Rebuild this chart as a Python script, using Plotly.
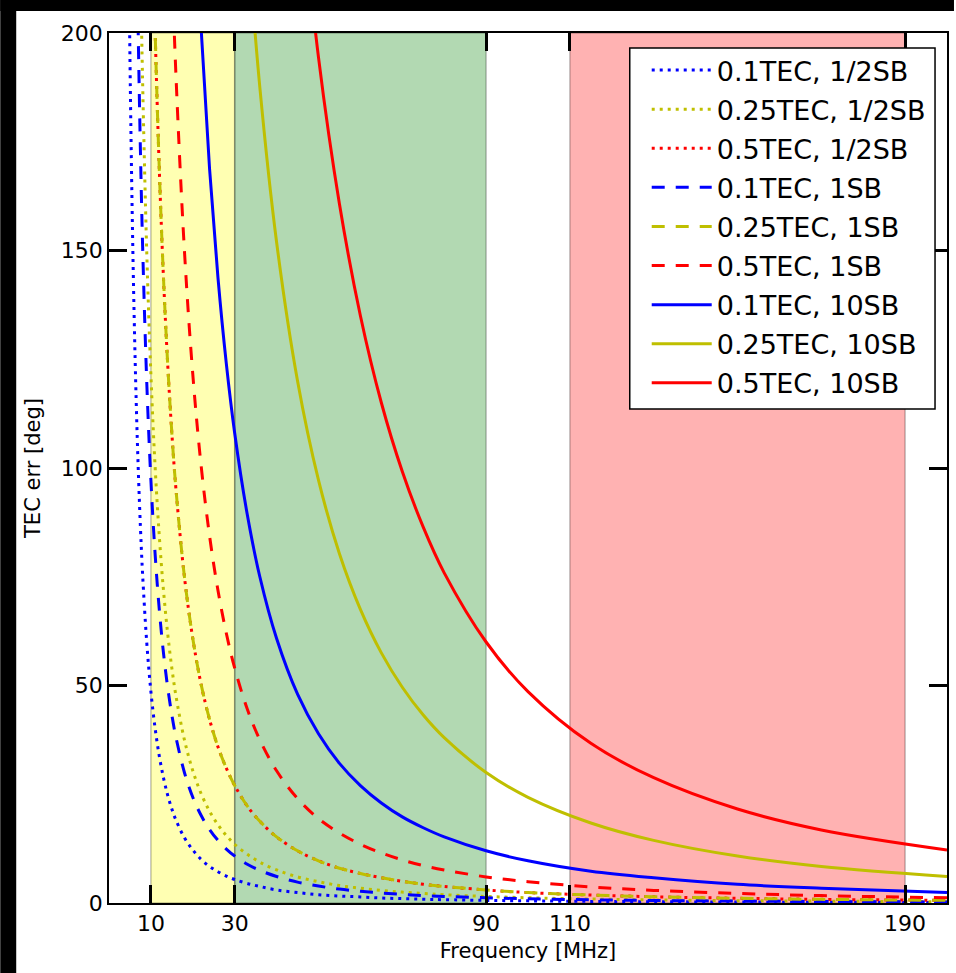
import plotly.graph_objects as go

# ---------------- data ----------------
freq = [4.5, 5, 5.5, 6, 6.5, 7, 7.5, 8, 9, 10, 11, 12, 13, 14, 15, 16, 18, 20,
        22, 24, 26, 28, 30, 33, 36, 40, 45, 50, 55, 60, 65, 70, 75, 80, 90, 100,
        115, 130, 150, 170, 200]

N = None
err_01_half = [240.0, 194.4, 160.7, 135.0, 115.0, 99.2, 86.4, 75.9, 60.0, 48.6,
               40.2, 33.8, 28.8, 24.8, 21.6, 19.0, 15.0, 12.2, 10.0, 8.4, 7.2,
               6.2, 5.4, 4.5, 3.8, 3.0, 2.4, 1.9, 1.6, 1.4, 1.15, 1.0, 0.86,
               0.76, 0.6, 0.49, 0.37, 0.29, 0.22, 0.17, 0.12]
err_025_half = [N, N, N, N, N, N, 216.0, 189.8, 150.0, 121.5, 100.4, 84.4, 71.9,
                62.0, 54.0, 47.5, 37.5, 30.4, 25.1, 21.1, 18.0, 15.5, 13.5, 11.2,
                9.4, 7.6, 6.0, 4.9, 4.0, 3.4, 2.9, 2.5, 2.2, 1.9, 1.5, 1.2, 0.92,
                0.72, 0.54, 0.42, 0.30]
err_05_half = [N, N, N, N, N, N, N, N, N, 243.0, 200.8, 168.8, 143.8, 124.0,
               108.0, 94.9, 75.0, 60.8, 50.2, 42.2, 35.9, 31.0, 27.0, 22.3, 18.8,
               15.2, 12.0, 9.7, 8.0, 6.8, 5.8, 5.0, 4.3, 3.8, 3.0, 2.4, 1.84,
               1.44, 1.08, 0.84, 0.61]
err_01_1 = [N, N, N, N, 230.1, 198.4, 172.8, 151.9, 120.0, 97.2, 80.3, 67.5,
            57.5, 49.6, 43.2, 38.0, 30.0, 24.3, 20.1, 16.9, 14.4, 12.4, 10.8,
            8.9, 7.5, 6.1, 4.8, 3.9, 3.2, 2.7, 2.3, 2.0, 1.7, 1.5, 1.2, 0.97,
            0.73, 0.58, 0.43, 0.34, 0.24]
err_025_1 = [N, N, N, N, N, N, N, N, N, 243.0, 200.8, 168.8, 143.8, 124.0,
             108.0, 94.9, 75.0, 60.8, 50.2, 42.2, 35.9, 31.0, 27.0, 22.3, 18.8,
             15.2, 12.0, 9.7, 8.0, 6.8, 5.8, 5.0, 4.3, 3.8, 3.0, 2.4, 1.84,
             1.44, 1.08, 0.84, 0.61]
err_05_1 = [N, N, N, N, N, N, N, N, N, N, N, N, N, N, 216.0, 189.8, 150.0,
            121.5, 100.4, 84.4, 71.9, 62.0, 54.0, 44.6, 37.5, 30.4, 24.0, 19.4,
            16.1, 13.5, 11.5, 9.9, 8.6, 7.6, 6.0, 4.9, 3.7, 2.9, 2.2, 1.7, 1.2]
err_01_10 = [N, N, N, N, N, N, N, N, N, N, N, N, N, N, N, N, N, 243.0, 200.8,
             168.8, 143.8, 124.0, 108.0, 89.3, 75.0, 60.8, 48.0, 38.9, 32.1,
             27.0, 23.0, 19.8, 17.3, 15.2, 12.0, 9.7, 7.3, 5.8, 4.3, 3.4, 2.4]
err_025_10 = [N, N, N, N, N, N, N, N, N, N, N, N, N, N, N, N, N, N, N, N, N, N,
              N, 223.1, 187.5, 151.9, 120.0, 97.2, 80.3, 67.5, 57.5, 49.6, 43.2,
              38.0, 30.0, 24.3, 18.4, 14.4, 10.8, 8.4, 6.1]
err_05_10 = [N, N, N, N, N, N, N, N, N, N, N, N, N, N, N, N, N, N, N, N, N, N,
             N, N, N, N, 240.0, 194.4, 160.7, 135.0, 115.0, 99.2, 86.4, 75.9,
             60.0, 48.6, 36.7, 28.8, 21.6, 16.8, 12.2]

series_names = ["0.1TEC, 1/2SB", "0.25TEC, 1/2SB", "0.5TEC, 1/2SB",
                "0.1TEC, 1SB", "0.25TEC, 1SB", "0.5TEC, 1SB",
                "0.1TEC, 10SB", "0.25TEC, 10SB", "0.5TEC, 10SB"]
series_values = [err_01_half, err_025_half, err_05_half,
                 err_01_1, err_025_1, err_05_1,
                 err_01_10, err_025_10, err_05_10]

band_start = [10, 30, 110]
band_end = [30, 90, 190]

x_ticks = [10, 30, 90, 110, 190]
y_ticks = [0, 50, 100, 150, 200]

# ---------------- styles ----------------
colors = ["#0000ff", "#bfbf00", "#ff0000"] * 3
dashes = ["3px,5px"] * 3 + ["13px,11px"] * 3 + ["solid"] * 3
band_colors = ["rgba(255,255,0,0.3)", "rgba(0,128,0,0.3)", "rgba(255,0,0,0.3)"]

FONT = "DejaVu Sans"

fig = go.Figure()

for i, (name, vals) in enumerate(zip(series_names, series_values)):
    fig.add_trace(go.Scatter(
        x=freq, y=vals, name=name, mode="lines",
        line=dict(color=colors[i], width=3, dash=dashes[i], shape="spline",
                  smoothing=1.0),
        legendgroup=f"g{i}", connectgaps=False,
    ))

for s, e, c in zip(band_start, band_end, band_colors):
    fig.add_vrect(x0=s, x1=e, fillcolor=c, layer="below",
                  line=dict(color="rgba(0,0,0,0.25)", width=1.5))

W, H = 956, 973
L, R, T, B = 109, 7, 33, 70
pw, ph = W - L - R, H - T - B
def px2paper_x(px):
    return (px - L) / pw
def px2paper_y(py):
    return (H - B - py) / ph

# black strips along the top and left edge of the image
fig.add_shape(type="rect", xref="paper", yref="paper",
              x0=px2paper_x(0), x1=px2paper_x(W), y0=px2paper_y(11), y1=px2paper_y(0),
              fillcolor="black", line_width=0, layer="above")
fig.add_shape(type="rect", xref="paper", yref="paper",
              x0=px2paper_x(0), x1=px2paper_x(16), y0=px2paper_y(H), y1=px2paper_y(0),
              fillcolor="black", line_width=0, layer="above")
# legend frame
fig.add_shape(type="rect", xref="paper", yref="paper",
              x0=px2paper_x(631), x1=px2paper_x(937), y0=px2paper_y(409), y1=px2paper_y(48),
              fillcolor="white", line=dict(color="black", width=1.5), layer="above")

axis_common = dict(
    showline=True, linecolor="black", linewidth=1.5, mirror="ticks",
    ticks="inside", ticklen=18, tickwidth=3, tickcolor="black",
    showgrid=False, zeroline=False,
    tickfont=dict(family=FONT, size=22, color="black"),
)

fig.update_xaxes(range=[0, 200], tickmode="array", tickvals=x_ticks,
                 title=dict(text="Frequency [MHz]",
                            font=dict(family=FONT, size=21, color="black"),
                            standoff=8),
                 **axis_common)
fig.update_yaxes(range=[0, 200], tickmode="array", tickvals=y_ticks,
                 title=dict(text="TEC err [deg]",
                            font=dict(family=FONT, size=21, color="black"),
                            standoff=14),
                 **axis_common)

fig.update_layout(
    width=W, height=H,
    margin=dict(l=L, r=R, t=T, b=B, pad=0),
    paper_bgcolor="white", plot_bgcolor="white",
    font=dict(family=FONT, size=22, color="black"),
    showlegend=True,
    legend=dict(x=px2paper_x(648), y=px2paper_y(46), xanchor="left", yanchor="top",
                bgcolor="rgba(0,0,0,0)", borderwidth=0, itemwidth=60,
                font=dict(family=FONT, size=27, color="black"),
                tracegroupgap=1, traceorder="grouped"),
)

fig.write_html("out.html")
